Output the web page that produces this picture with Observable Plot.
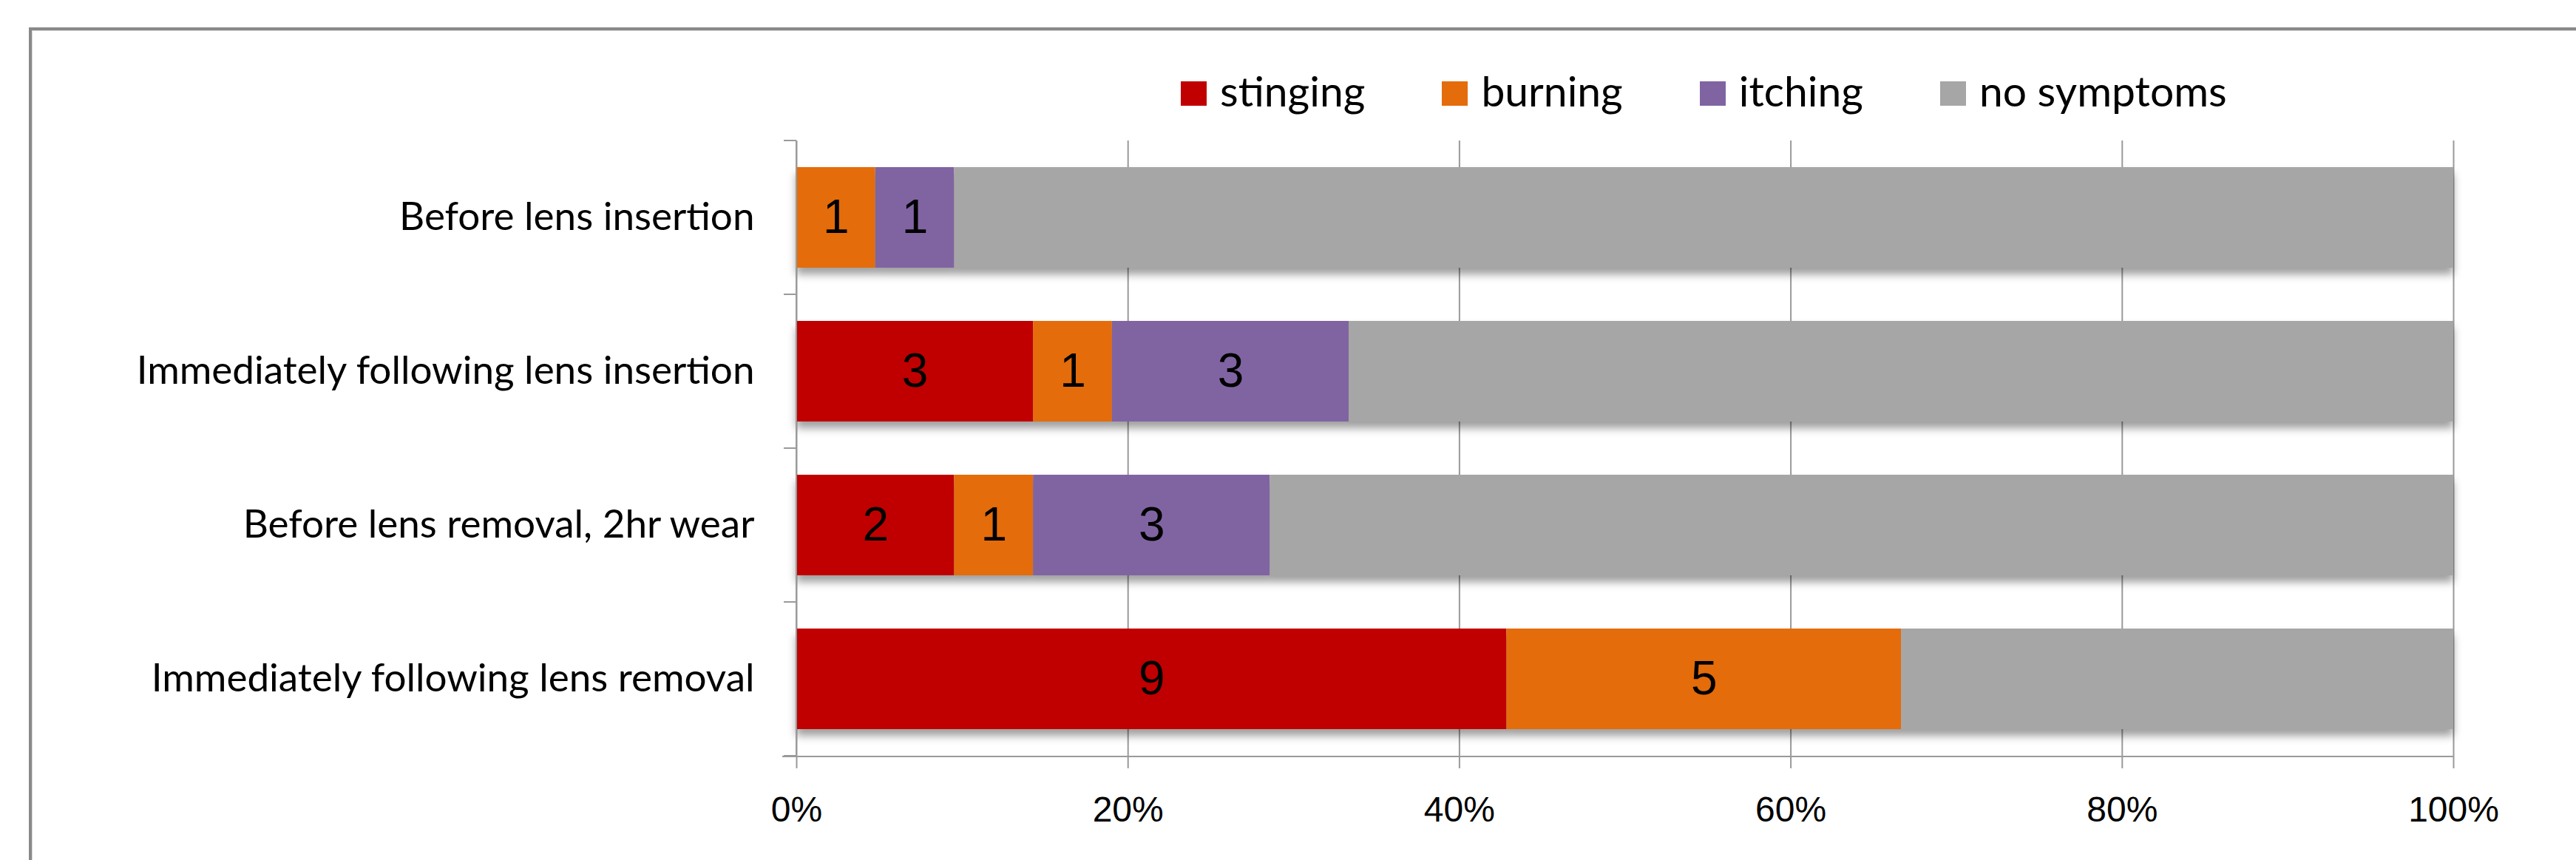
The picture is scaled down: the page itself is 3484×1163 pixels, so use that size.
<!DOCTYPE html>
<html>
<head>
<meta charset="utf-8">
<script src="https://cdn.jsdelivr.net/npm/d3@7"></script>
<script src="https://cdn.jsdelivr.net/npm/@observablehq/plot@0.6"></script>
<style>
  html, body { margin: 0; padding: 0; background: #fff; }
  body { width: 3484px; height: 1163px; overflow: hidden; position: relative; }
  #frame { position: absolute; left: 39px; top: 37px; width: 4000px; height: 2000px;
           border-left: 4px solid #898989; border-top: 4px solid #898989;
           box-shadow: inset 1px 1px 0 #d8d8d8; pointer-events: none; }
  #legend { position: relative; height: 160px; box-sizing: border-box; padding-top: 88px;
            padding-left: 1597px; display: flex; align-items: flex-start;
            font-family: Lato, "Open Sans", sans-serif; font-size: 57px; line-height: 68px; color: #000; }
  #legend .item { display: flex; align-items: center; margin-right: 104px; height: 68px; }
  #legend .sw { width: 35px; height: 33px; margin-right: 18px; margin-top: 9px; }
  #chart { position: relative; }
  #chart g[aria-label="bar"] { filter: drop-shadow(0px 9px 6px rgba(0,0,0,0.38)); }
</style>
</head>
<body>
<div id="frame"></div>
<div id="legend"></div>
<div id="chart"></div>
<script>
// ---- data ----
const categories = [
  "Before lens insertion",
  "Immediately following lens insertion",
  "Before lens removal, 2hr wear",
  "Immediately following lens removal"
];
const series = ["stinging", "burning", "itching", "no symptoms"];
const stinging   = [0, 3, 2, 9];
const burning    = [1, 1, 1, 5];
const itching    = [1, 3, 3, 0];
const noSymptoms = [19, 14, 15, 7];
const colors = ["#C00000", "#E46C0A", "#8064A2", "#A6A6A6"];
const xTicks = [0, 0.2, 0.4, 0.6, 0.8, 1];

const seriesValues = [stinging, burning, itching, noSymptoms];
const table = [];
categories.forEach((cat, i) => {
  series.forEach((s, j) => table.push({cat, series: s, value: seriesValues[j][i]}));
});

// ---- legend ----
const legend = document.getElementById("legend");
series.forEach((s, j) => {
  const item = document.createElement("div");
  item.className = "item";
  const sw = document.createElement("div");
  sw.className = "sw";
  sw.style.background = colors[j];
  const t = document.createElement("span");
  t.textContent = s;
  item.appendChild(sw);
  item.appendChild(t);
  legend.appendChild(item);
});

// ---- axis furniture drawn from the scales ----
function axisLines(index, scales, values, dimensions) {
  const {width, height, marginTop, marginBottom, marginLeft, marginRight} = dimensions;
  const y = scales.y, x = scales.x;
  const x0 = x ? x(0) : marginLeft;
  const x1 = x ? x(1) : width - marginRight;
  const bottom = height - marginBottom;
  const n = categories.length;
  let bounds;
  if (y && y.step && y.bandwidth) {
    const off = (y.step() - y.bandwidth()) / 2;
    bounds = categories.map(c => y(c) - off);
    bounds.push(y(categories[n - 1]) + y.bandwidth() + off);
  } else {
    const st = (bottom - marginTop) / n;
    bounds = d3.range(n + 1).map(i => marginTop + i * st);
  }
  const g = d3.create("svg:g").attr("stroke", "#9a9a9a").attr("stroke-width", 2);
  g.append("line").attr("x1", x0).attr("x2", x0).attr("y1", bounds[0]).attr("y2", bottom);
  g.append("line").attr("x1", x0 - 19).attr("x2", x1).attr("y1", bottom).attr("y2", bottom);
  bounds.forEach(b => g.append("line").attr("x1", x0 - 17).attr("x2", x0).attr("y1", b).attr("y2", b));
  return g.node();
}

const chart = Plot.plot({
  width: 3484,
  height: 1003,
  marginTop: 30,
  marginBottom: 140,
  marginLeft: 1077,
  marginRight: 166,
  style: {background: "transparent", color: "#000"},
  x: {domain: [0, 1], axis: null},
  y: {domain: categories, paddingInner: 0.345, paddingOuter: 0.1725, axis: null},
  color: {domain: series, range: colors},
  marks: [
    Plot.ruleX(xTicks, {stroke: "#9a9a9a", strokeWidth: 2}),
    Plot.barX(table, Plot.stackX({x: "value", y: "cat", fill: "series", offset: "normalize"})),
    Plot.text(table, Plot.stackX({
      x: "value", y: "cat", z: "series", offset: "normalize",
      text: d => (d.series === "no symptoms" || d.value === 0) ? "" : String(d.value),
      fill: "#000", fontSize: 64, fontFamily: "Liberation Sans, Arial, sans-serif"
    })),
    Plot.axisX({
      ticks: xTicks, tickFormat: d3.format(".0%"), tickSize: 16, tickPadding: 37,
      stroke: "#9a9a9a", strokeWidth: 2, fill: "#000",
      fontSize: 48, fontFamily: "Liberation Sans, Arial, sans-serif", label: null
    }),
    Plot.axisY({
      tickSize: 0, tickPadding: 57, fill: "#000",
      fontSize: 53, fontFamily: "Lato, 'Open Sans', sans-serif", label: null
    }),
    axisLines
  ]
});
document.getElementById("chart").appendChild(chart);
</script>
</body>
</html>
